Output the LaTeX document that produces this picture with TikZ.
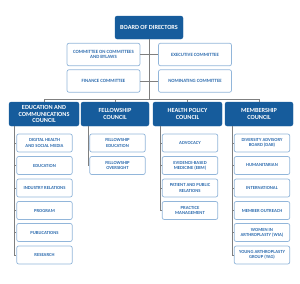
\documentclass[tikz,border=0pt]{standalone}
\usepackage{fontspec}
\setmainfont{Carlito}
\definecolor{boardblue}{HTML}{165C9C}
\definecolor{paleblue}{HTML}{92B6DA}
\definecolor{textblue}{HTML}{2F6DAF}
\definecolor{linegray}{HTML}{7F7F7F}
\begin{document}
\begin{tikzpicture}[x=2pt, y=-2pt,
  head/.style={draw=boardblue, fill=boardblue, rounded corners=4pt, align=center, text=white, font=\fontsize{12.5}{13.2}\selectfont\bfseries, inner sep=1pt},
  cttee/.style={draw=paleblue, line width=1.4pt, fill=white, rounded corners=4pt, align=center, text=textblue, font=\fontsize{9.6}{11.5}\selectfont\bfseries, minimum width=146pt, minimum height=45pt, inner sep=1pt},
  item/.style={draw=paleblue, line width=1.4pt, fill=white, rounded corners=4pt, align=center, text=textblue, font=\fontsize{9.3}{10.6}\selectfont\bfseries, minimum width=111pt, minimum height=36pt, inner sep=1pt},
  link/.style={draw=linegray, line width=1.5pt}]
\useasboundingbox (0,0) rectangle (300,283);
% board and standing committees
\node[head, minimum width=136pt, minimum height=46pt] (board) at (149,27.5) {BOARD OF DIRECTORS};
\coordinate (bar) at (149,99);
\draw[link] (board.south) -- (board.south |- bar);
\node[cttee] (coc) at (103.5,54.5) {COMMITTEE ON COMMITTEES\\AND BYLAWS};
\node[cttee] (exe) at (195,54.5) {EXECUTIVE COMMITTEE};
\node[cttee] (fin) at (103.5,81) {FINANCE COMMITTEE};
\node[cttee] (nom) at (195,81) {NOMINATING COMMITTEE};
\draw[link] (coc.east) -- (exe.west);
\draw[link] (fin.east) -- (nom.west);
% councils
\node[head, minimum width=140pt, minimum height=48pt] (edu) at (44,114) {EDUCATION AND\\COMMUNICATIONS\\COUNCIL};
\node[head, minimum width=136pt, minimum height=48pt] (fel) at (115,114) {FELLOWSHIP\\COUNCIL};
\node[head, minimum width=138pt, minimum height=48pt] (hea) at (187.5,114) {HEALTH POLICY\\COUNCIL};
\node[head, minimum width=136pt, minimum height=48pt] (mem) at (259,114) {MEMBERSHIP\\COUNCIL};
\draw[link] (edu.north) -- (edu.north |- bar) -- (mem.north |- bar) -- (mem.north);
\draw[link] (fel.north) -- (fel.north |- bar);
\draw[link] (hea.north) -- (hea.north |- bar);
% education and communications
\node[item] (e1) at (44.5,143) {DIGITAL HEALTH\\AND SOCIAL MEDIA};
\node[item] (e2) at (44.5,165.5) {EDUCATION};
\node[item] (e3) at (44.5,188) {INDUSTRY RELATIONS};
\node[item] (e4) at (44.5,210.5) {PROGRAM};
\node[item] (e5) at (44.5,232.5) {PUBLICATIONS};
\node[item] (e6) at (44.5,255) {RESEARCH};
\coordinate (espine) at (14,0);
\draw[link] (edu.south -| espine) -- (espine |- e6.west) -- (e6.west);
\foreach \n in {e1,e2,e3,e4,e5} \draw[link] (\n.west) -- (\n.west -| espine);
% fellowship
\node[item] (f1) at (117.5,143) {FELLOWSHIP\\EDUCATION};
\node[item] (f2) at (117.5,165.5) {FELLOWSHIP\\OVERSIGHT};
\coordinate (fspine) at (88,0);
\draw[link] (fel.south -| fspine) -- (fspine |- f2.west) -- (f2.west);
\draw[link] (f1.west) -- (f1.west -| fspine);
% health policy
\node[item] (h1) at (190,143) {ADVOCACY};
\node[item] (h2) at (190,165.5) {EVIDENCE-BASED\\MEDICINE (EBM)};
\node[item] (h3) at (190,188) {PATIENT AND PUBLIC\\RELATIONS};
\node[item] (h4) at (190,210.5) {PRACTICE\\MANAGEMENT};
\coordinate (hspine) at (160,0);
\draw[link] (hea.south -| hspine) -- (hspine |- h4.west) -- (h4.west);
\foreach \n in {h1,h2,h3} \draw[link] (\n.west) -- (\n.west -| hspine);
% membership
\node[item] (m1) at (262,143) {DIVERSITY ADVISORY\\BOARD (DAB)};
\node[item] (m2) at (262,165.5) {HUMANITARIAN};
\node[item] (m3) at (262,188) {INTERNATIONAL};
\node[item] (m4) at (262,210.5) {MEMBER OUTREACH};
\node[item] (m5) at (262,232.5) {WOMEN IN\\ARTHROPLASTY (WIA)};
\node[item] (m6) at (262,255) {YOUNG ARTHROPLASTY\\GROUP (YAG)};
\coordinate (mspine) at (232,0);
\draw[link] (mem.south -| mspine) -- (mspine |- m6.west) -- (m6.west);
\foreach \n in {m1,m2,m3,m4,m5} \draw[link] (\n.west) -- (\n.west -| mspine);
\end{tikzpicture}
\end{document}
